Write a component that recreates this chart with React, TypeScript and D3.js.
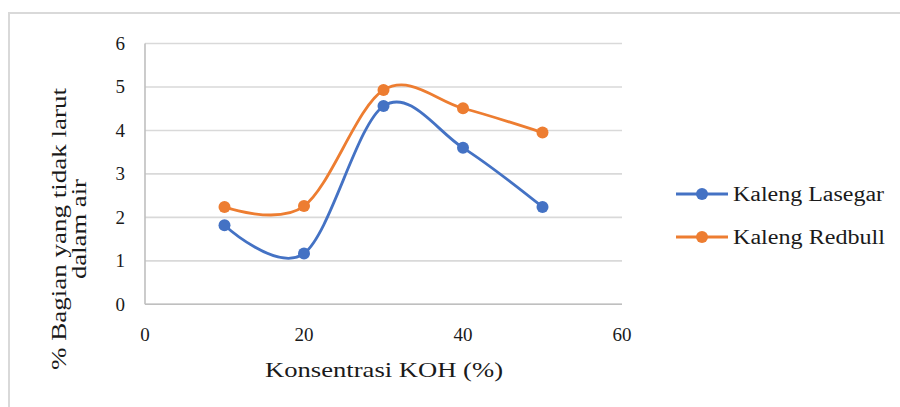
import React from "react";
import * as d3 from "d3";

const concentrations = [10, 20, 30, 40, 50];
const lasegar = [1.82, 1.17, 4.56, 3.6, 2.24];
const redbull = [2.24, 2.26, 4.93, 4.51, 3.95];
const seriesNames = ["Kaleng Lasegar", "Kaleng Redbull"];
const seriesColors = ["#4472C4", "#ED7D31"];
const xTicks = [0, 20, 40, 60];
const yTicks = [0, 1, 2, 3, 4, 5, 6];
const xTitle = "Konsentrasi KOH (%)";
const yTitleLines = ["% Bagian yang tidak larut", "dalam air"];

const W = 900;
const H = 407;
const FONT = "'Liberation Serif', 'Times New Roman', serif";
const ts: React.CSSProperties = { fontFamily: FONT };

export default function App() {
  const x = d3.scaleLinear().domain([0, 60]).range([145, 622]);
  const y = d3.scaleLinear().domain([0, 6]).range([304.3, 43.5]);
  const line = d3
    .line<[number, number]>()
    .x((d) => x(d[0]))
    .y((d) => y(d[1]))
    .curve(d3.curveCardinal.tension(0));

  const series = [lasegar, redbull].map((vals, i) => ({
    name: seriesNames[i],
    color: seriesColors[i],
    pts: concentrations.map((c, j) => [c, vals[j]] as [number, number]),
  }));

  const legendY = [194, 237];

  return (
    <svg
      width={W}
      height={H}
      style={{ position: "absolute", left: 0, top: 0, display: "block", background: "#fff" }}
    >
      <rect x={9} y={13} width={1000} height={600} fill="#fff" stroke="#d9d9d9" strokeWidth={2} />

      {yTicks.map((t) => (
        <line key={"g" + t} x1={x(0)} x2={x(60)} y1={y(t)} y2={y(t)} stroke="#d9d9d9" strokeWidth={1.6} />
      ))}
      <line x1={x(0)} x2={x(0)} y1={y(6)} y2={y(0)} stroke="#bfbfbf" strokeWidth={1.6} />
      <line x1={x(0)} x2={x(60)} y1={y(0)} y2={y(0)} stroke="#bfbfbf" strokeWidth={1.6} />

      {yTicks.map((t) => (
        <text key={"yt" + t} x={125} y={y(t) + 6.5} textAnchor="end" fontSize={19} fill="#1a1a1a" style={ts}>
          {t}
        </text>
      ))}
      {xTicks.map((t) => (
        <text key={"xt" + t} x={x(t)} y={341} textAnchor="middle" fontSize={19} fill="#1a1a1a" style={ts}>
          {t}
        </text>
      ))}

      <text x={384} y={377} textAnchor="middle" fontSize={22} fill="#1a1a1a" style={ts} textLength={238} lengthAdjust="spacingAndGlyphs">
        {xTitle}
      </text>
      <text transform="translate(66,229) rotate(-90)" textAnchor="middle" fontSize={22} fill="#1a1a1a" style={ts} textLength={282} lengthAdjust="spacingAndGlyphs">
        {yTitleLines[0]}
      </text>
      <text transform="translate(86,229) rotate(-90)" textAnchor="middle" fontSize={22} fill="#1a1a1a" style={ts} textLength={100} lengthAdjust="spacingAndGlyphs">
        {yTitleLines[1]}
      </text>

      {series.map((s) => (
        <g key={s.name}>
          <path d={line(s.pts) || ""} fill="none" stroke={s.color} strokeWidth={2.8} />
          {s.pts.map((p, j) => (
            <circle key={j} cx={x(p[0])} cy={y(p[1])} r={6} fill={s.color} />
          ))}
        </g>
      ))}

      {series.map((s, i) => (
        <g key={"lg" + s.name}>
          <line x1={676} x2={728} y1={legendY[i]} y2={legendY[i]} stroke={s.color} strokeWidth={2.8} />
          <circle cx={702} cy={legendY[i]} r={6} fill={s.color} />
          <text x={733} y={legendY[i] + 7} fontSize={20} fill="#1a1a1a" style={ts} textLength={i === 0 ? 151 : 152} lengthAdjust="spacingAndGlyphs">
            {s.name}
          </text>
        </g>
      ))}
    </svg>
  );
}
